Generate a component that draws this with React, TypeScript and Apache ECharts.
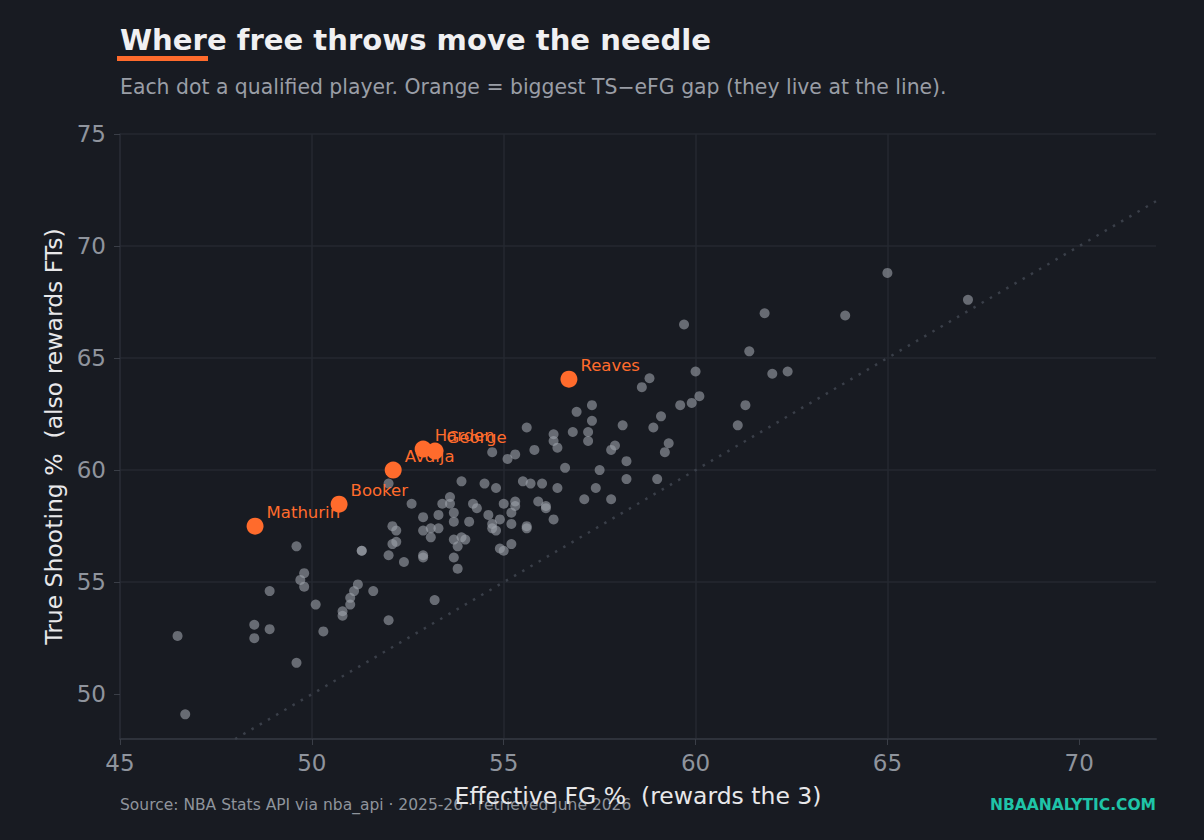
import React, { useEffect, useRef } from "react";
import * as echarts from "echarts";

const xTicks = [45, 50, 55, 60, 65, 70];
const yTicks = [50, 55, 60, 65, 70, 75];

const highlightNames = ["Mathurin", "Booker", "Avdija", "Harden", "George", "Reaves"];
const highlightEfg = [48.52, 50.71, 52.12, 52.9, 53.21, 56.7];
const highlightTs = [57.5, 58.48, 60.0, 60.94, 60.85, 64.06];

const otherPlayers: [number, number][] = [
  [46.5, 52.6], [46.7, 49.1], [48.5, 53.1], [48.5, 52.5], [48.9, 54.6], [48.9, 52.9],
  [49.6, 56.6], [49.6, 51.4], [49.8, 55.4], [49.7, 55.1], [49.8, 54.8], [50.1, 54.0],
  [50.3, 52.8], [50.8, 53.7], [50.8, 53.5], [51.0, 54.0], [51.0, 54.3], [51.1, 54.6],
  [51.2, 54.9], [51.3, 56.4], [51.3, 56.4], [51.6, 54.6], [52.0, 53.3], [52.0, 56.2],
  [52.1, 57.5], [52.2, 57.3], [52.1, 56.7], [52.2, 56.8], [52.4, 55.9], [52.9, 56.1],
  [52.9, 56.2], [52.9, 57.3], [53.1, 57.4], [53.3, 57.4], [53.1, 57.0], [52.9, 57.9],
  [53.2, 54.2], [52.0, 59.4], [52.6, 58.5], [53.9, 59.5], [53.6, 58.8], [53.4, 58.5],
  [53.6, 58.5], [54.2, 58.5], [54.3, 58.3], [53.3, 58.0], [53.7, 58.1], [53.7, 57.7],
  [54.1, 57.7], [53.7, 56.9], [53.8, 56.6], [53.9, 57.0], [54.0, 56.9], [53.7, 56.1],
  [53.8, 55.6], [54.9, 56.5], [55.0, 56.4], [55.2, 56.7], [55.1, 60.5], [56.6, 60.1],
  [57.5, 60.0], [54.5, 59.4], [54.8, 59.2], [55.5, 59.5], [55.7, 59.4], [56.0, 59.4],
  [56.4, 59.2], [57.4, 59.2], [55.0, 58.5], [55.3, 58.6], [55.3, 58.4], [55.9, 58.6],
  [56.1, 58.4], [56.1, 58.3], [57.1, 58.7], [57.8, 58.7], [54.6, 58.0], [54.9, 57.8],
  [55.2, 58.1], [55.2, 57.6], [54.7, 57.6], [54.7, 57.4], [54.8, 57.3], [55.6, 57.5],
  [55.6, 57.4], [56.3, 57.8], [58.6, 63.7], [58.8, 64.1], [60.0, 64.4], [57.3, 62.9],
  [56.9, 62.6], [59.6, 62.9], [59.9, 63.0], [60.1, 63.3], [59.1, 62.4], [57.3, 62.2],
  [58.1, 62.0], [58.9, 61.9], [55.6, 61.9], [56.8, 61.7], [57.2, 61.7], [56.3, 61.6],
  [56.3, 61.3], [57.2, 61.3], [56.4, 61.0], [59.3, 61.2], [59.2, 60.8], [57.9, 61.1],
  [57.8, 60.9], [54.7, 60.8], [55.8, 60.9], [55.3, 60.7], [58.2, 60.4], [58.2, 59.6],
  [59.0, 59.6], [59.7, 66.5], [61.8, 67.0], [61.4, 65.3], [62.0, 64.3], [62.4, 64.4],
  [61.3, 62.9], [61.1, 62.0], [65.0, 68.8], [67.1, 67.6], [63.9, 66.9],
];

const parityLine: [number, number][] = [[48, 48], [72, 72]];

const BG = "#181b22";
const ORANGE = "#ff6b2c";
const FONT = "DejaVu Sans";

export default function App() {
  const ref = useRef<HTMLDivElement>(null);
  useEffect(() => {
    if (!ref.current) return;
    const chart = echarts.init(ref.current, null, { renderer: "svg" });
    chart.setOption({
      animation: false,
      backgroundColor: BG,
      textStyle: { fontFamily: FONT },
      grid: { left: 120, right: 48, top: 134, bottom: 101, containLabel: false },
      xAxis: {
        type: "value",
        min: 45,
        max: 72,
        interval: 5,
        name: "Effective FG %  (rewards the 3)",
        nameLocation: "middle",
        nameGap: 45,
        nameTextStyle: { color: "#e8e8ea", fontSize: 23.5, fontFamily: FONT },
        axisLine: { show: true, lineStyle: { color: "#2e323b", width: 2 } },
        axisTick: { show: true, customValues: xTicks, length: 6, lineStyle: { color: "#3a3e47" } },
        axisLabel: { customValues: xTicks, color: "#8f949d", fontSize: 23, margin: 12, fontFamily: FONT },
        splitLine: { show: true, showMaxLine: false, showMinLine: false, lineStyle: { color: "#242831", width: 1.5 } },
      },
      yAxis: {
        type: "value",
        min: 48,
        max: 75,
        name: "True Shooting %  (also rewards FTs)",
        nameLocation: "middle",
        nameGap: 49,
        nameTextStyle: { color: "#e8e8ea", fontSize: 23.5, fontFamily: FONT },
        axisLine: { show: true, lineStyle: { color: "#2a2e37", width: 1.5 } },
        axisTick: { show: true, customValues: yTicks, length: 6, lineStyle: { color: "#3a3e47" } },
        axisLabel: { customValues: yTicks, color: "#8f949d", fontSize: 23, margin: 14, fontFamily: FONT },
        splitLine: { show: true, showMinLine: false, lineStyle: { color: "#242831", width: 1.5 } },
      },
      series: [
        {
          type: "line",
          data: parityLine,
          symbol: "none",
          silent: true,
          lineStyle: { color: "#3a3f49", width: 2.5, type: [2.5, 7] },
          z: 1,
        },
        {
          type: "scatter",
          data: otherPlayers,
          symbolSize: 10,
          itemStyle: { color: "#9ca1aa", opacity: 0.6 },
          z: 2,
        },
        {
          type: "scatter",
          data: highlightNames.map((n, i) => ({ name: n, value: [highlightEfg[i], highlightTs[i]] })),
          symbolSize: 17,
          itemStyle: { color: ORANGE, opacity: 1 },
          label: {
            show: true,
            position: "right",
            offset: [-2, -14],
            formatter: (p: any) => p.name,
            color: ORANGE,
            fontSize: 16.5,
            fontFamily: FONT,
          },
          z: 3,
        },
      ],
      graphic: [
        {
          type: "text",
          left: 120,
          top: 25,
          style: { text: "Where free throws move the needle", fill: "#f0f0f2", fontSize: 29.1, fontWeight: "bold", fontFamily: FONT },
        },
        {
          type: "rect",
          shape: { x: 117, y: 56, width: 91, height: 5 },
          style: { fill: ORANGE },
        },
        {
          type: "text",
          left: 120,
          top: 77,
          style: {
            text: "Each dot a qualified player. Orange = biggest TS\u2212eFG gap (they live at the line).",
            fill: "#9a9ea6",
            fontSize: 20.4,
            fontFamily: FONT,
          },
        },
        {
          type: "text",
          left: 120,
          top: 797,
          style: {
            text: "Source: NBA Stats API via nba_api \u00b7 2025-26 \u00b7 retrieved June 2026",
            fill: "#8f949c",
            fontSize: 15.5,
            fontFamily: FONT,
          },
        },
        {
          type: "text",
          right: 48,
          top: 797,
          style: { text: "NBAANALYTIC.COM", fill: "#1fc4a8", fontSize: 15.5, fontWeight: "bold", fontFamily: FONT },
        },
      ],
    });
    return () => chart.dispose();
  }, []);
  return (
    <div
      ref={ref}
      style={{ position: "fixed", left: 0, top: 0, width: 1204, height: 840, background: BG }}
    />
  );
}
